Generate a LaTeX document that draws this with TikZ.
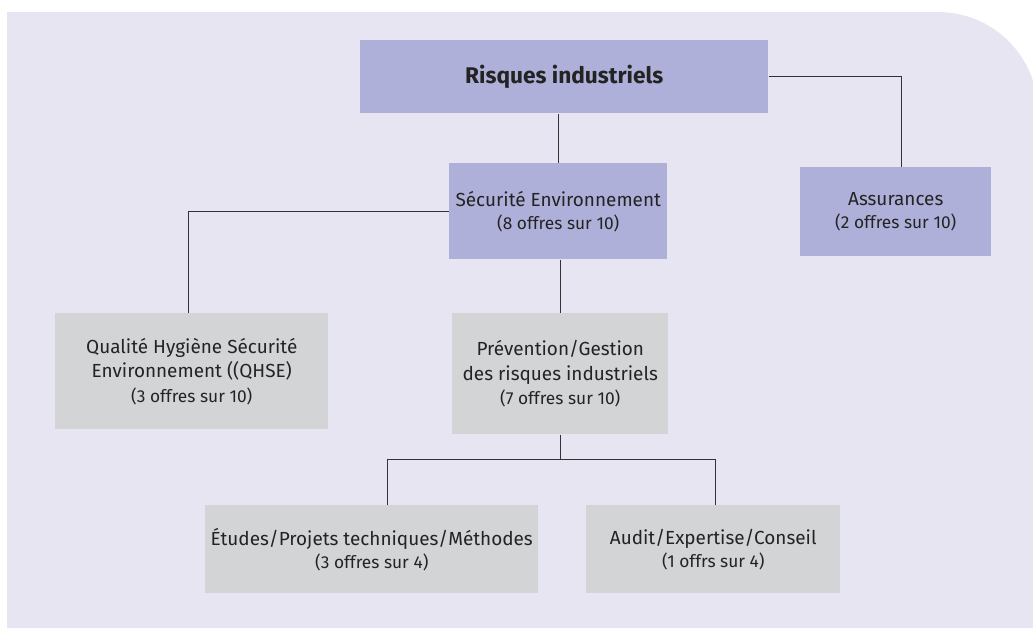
\documentclass[tikz,border=0pt]{standalone}
\usepackage{fontspec}
\setmainfont{Fira Sans}
\definecolor{bgcol}{HTML}{E8E5F3}
\definecolor{purp}{HTML}{AFB0D9}
\definecolor{greybox}{HTML}{D3D4D6}
\definecolor{txt}{HTML}{232323}
\definecolor{linecol}{HTML}{333333}
\tikzset{
  box/.style={anchor=north west, inner sep=0pt, align=center, text=txt,
    font=\fontsize{14.2}{17.25}\selectfont},
  pbox/.style={box, fill=purp},
  gbox/.style={box, fill=greybox},
  conn/.style={draw=linecol, line width=0.9pt},
}
\newcommand{\sub}[1]{{\fontsize{13}{17.25}\selectfont #1}}
\begin{document}
\begin{tikzpicture}[x=0.75pt,y=-0.75pt]
\useasboundingbox (0,0) rectangle (1033,629);
\fill[bgcol] (7,628) -- (7,12) -- (938,12) arc[start angle=90,end angle=0,radius=75pt] -- (1040,628) -- cycle;

\node[pbox, minimum width=306pt, minimum height=54.75pt, font=\fontsize{17}{20}\selectfont\bfseries] (risk) at (360,40) {Risques industriels};
\node[pbox, minimum width=163.5pt, minimum height=72pt] (secu) at (449,163) {Sécurité Environnement\\\sub{(8 offres sur 10)}};
\node[pbox, minimum width=143.25pt, minimum height=66.75pt] (assur) at (800,167) {Assurances\\\sub{(2 offres sur 10)}};
\node[gbox, minimum width=204.75pt, minimum height=87pt, font=\fontsize{14.2}{18.4}\selectfont] (qhse) at (55,313) {Qualité Hygiène Sécurité\\Environnement ((QHSE)\\\sub{(3 offres sur 10)}};
\node[gbox, minimum width=162pt, minimum height=90.75pt, font=\fontsize{14.2}{18.4}\selectfont] (prev) at (452,313) {Prévention/Gestion\\des risques industriels\\\sub{(7 offres sur 10)}};
\node[gbox, minimum width=249.75pt, minimum height=66pt] (etud) at (205,505) {Études/Projets techniques/Méthodes\\\sub{(3 offres sur 4)}};
\node[gbox, minimum width=190.5pt, minimum height=66pt] (audit) at (586,505) {Audit/Expertise/Conseil\\\sub{(1 offrs sur 4)}};

\coordinate (bus) at ([yshift=-18.75pt]prev.south);
\draw[conn] (secu.north) -- (secu.north |- risk.south);
\draw[conn] (risk.east) -| ([xshift=4.1pt]assur.north);
\draw[conn] (secu.west) -| ([xshift=-2.6pt]qhse.north);
\draw[conn] (prev.north |- secu.south) -- (prev.north);
\draw[conn] (prev.south) -- (bus);
\draw[conn] ([xshift=11.6pt]etud.north) |- (bus) -| ([xshift=1.5pt]audit.north);
\end{tikzpicture}
\end{document}
